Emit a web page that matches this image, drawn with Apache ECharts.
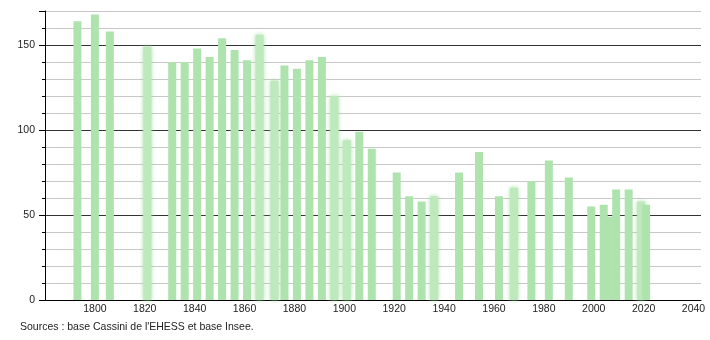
<!DOCTYPE html>
<html>
<head>
<meta charset="utf-8">
<script src="https://cdn.jsdelivr.net/npm/echarts@6/dist/echarts.min.js"></script>
<style>
html,body{margin:0;padding:0;background:#fff;}
#chart{width:710px;height:340px;}
</style>
</head>
<body>
<div id="chart"></div>
<script>
// Data
const years = [1793,1800,1806,1821,1831,1836,1841,1846,1851,1856,1861,1866,1872,1876,1881,1886,1891,1896,1901,1906,1911,1921,1926,1931,1936,1946,1954,1962,1968,1975,1982,1990,1999,2004,2006,2009,2014,2019,2021];
const population = [164,168,158,149,140,140,148,143,154,147,141,156,129,138,136,141,143,120,94,99,89,75,61,58,61,75,87,61,66,70,82,72,55,56,49,65,65,58,56];
const xTickLabels = [1800,1820,1840,1860,1880,1900,1920,1940,1960,1980,2000,2020,2040];
const yTickLabels = [0,50,100,150];
const sourceText = "Sources : base Cassini de l'EHESS et base Insee.";
// Style config: bars rendered soft/blurred in the reference
const softYears = [1821,1866,1872,1896,1901,1936,1968,2019];

const barColor = '#aee3ae';
const seriesData = years.map((y, i) => {
  const item = { value: [y, population[i]] };
  if (softYears.includes(y)) {
    item.itemStyle = { color: '#bde9bd', shadowBlur: 4, shadowColor: 'rgba(160,220,160,0.9)' };
  }
  return item;
});

const chart = echarts.init(document.getElementById('chart'), null, { renderer: 'canvas' });
const font = 'Liberation Sans, Arial, sans-serif';
chart.setOption({
  animation: false,
  backgroundColor: '#fff',
  grid: { left: 45, right: 9, top: 11, bottom: 40, containLabel: false },
  xAxis: {
    type: 'value', min: 1780, max: 2043, interval: 20,
    axisLine: { show: true, lineStyle: { color: '#000', width: 1 } },
    axisTick: { show: false },
    splitLine: { show: false },
    axisLabel: {
      color: '#222', fontSize: 10.5, fontFamily: font, margin: 4,
      formatter: v => xTickLabels.includes(v) ? String(v) : ''
    }
  },
  yAxis: [{
    type: 'value', min: 0, max: 170, interval: 10,
    axisLine: { show: true, lineStyle: { color: '#000', width: 1 } },
    axisTick: { show: true, length: 3, lineStyle: { color: '#000' } },
    splitLine: { show: true, lineStyle: { color: ['#333','#c8c8c8','#c8c8c8','#c8c8c8','#c8c8c8'], width: 1 } },
    axisLabel: {
      color: '#222', fontSize: 10.5, fontFamily: font, margin: 10,
      formatter: v => yTickLabels.includes(v) ? String(v) : ''
    }
  }, {
    type: 'value', min: 0, max: 170, interval: 50, position: 'left',
    axisLine: { show: false },
    axisTick: { show: true, length: 6, lineStyle: { color: '#000' } },
    splitLine: { show: false },
    axisLabel: { show: false }
  }],
  series: [{
    type: 'bar',
    data: seriesData,
    barWidth: 8,
    itemStyle: { color: barColor }
  }],
  graphic: [{
    type: 'text', left: 20, top: 322,
    style: { text: sourceText, fill: '#222', font: '10.5px ' + font }
  }]
});
</script>
</body>
</html>
